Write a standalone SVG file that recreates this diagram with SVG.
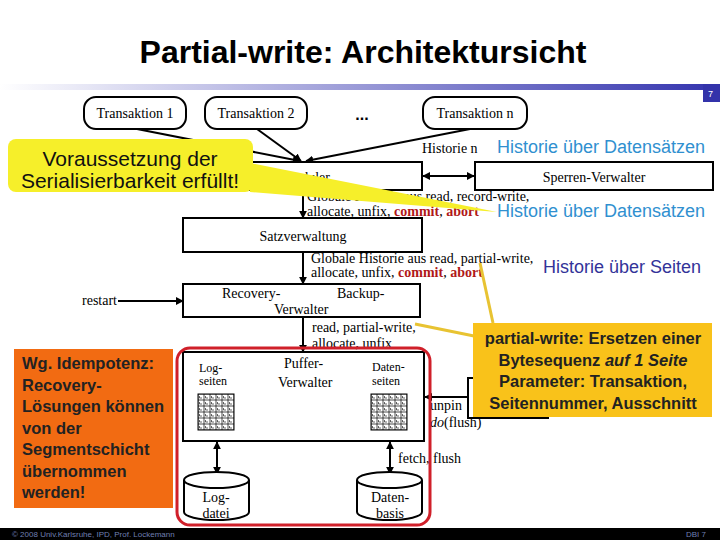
<svg xmlns="http://www.w3.org/2000/svg" width="720" height="540" viewBox="0 0 720 540">
<style>
.t{font-family:"Liberation Serif","Times New Roman",serif;font-size:14px;fill:#000}
.t14{font-family:"Liberation Serif","Times New Roman",serif;font-size:14px;fill:#000}
.s{font-family:"Liberation Serif","Times New Roman",serif;font-size:12px;fill:#000}
.box{fill:#fff;stroke:#000;stroke-width:2}
.ln{stroke:#000;stroke-width:2;fill:none}
.red{fill:#b01818;font-weight:bold}
.hb{font-family:"Liberation Sans",Arial,sans-serif;font-size:18px;fill:#3090d0}
.hs{font-family:"Liberation Sans",Arial,sans-serif;font-size:18px;fill:#333399}
.cb{font-family:"Liberation Sans",Arial,sans-serif;font-size:16.5px;font-weight:bold;fill:#222}
.ptr{stroke:#e8c332;stroke-width:3;fill:none}
.ft{font-family:"Liberation Sans",Arial,sans-serif;font-size:8px;fill:#6f7fb0}
</style>
<defs>
<linearGradient id="bar" x1="0" x2="1" y1="0" y2="0">
<stop offset="0" stop-color="#ffffff"/>
<stop offset="1" stop-color="#3838b0"/>
</linearGradient>
<marker id="ah" viewBox="0 0 10 10" refX="9" refY="5" markerWidth="4" markerHeight="4" orient="auto-start-reverse">
<path d="M0,0 L10,5 L0,10 z" fill="#000"/>
</marker>
<pattern id="grid" width="6" height="6" patternUnits="userSpaceOnUse" x="198" y="394">
<rect width="6" height="6" fill="#fff" stroke="#000" stroke-width="0.7"/>
<path d="M1.5,2 v2 h2.5" stroke="#000" stroke-width="0.6" fill="none"/>
</pattern>
<pattern id="grid2" width="6" height="6" patternUnits="userSpaceOnUse" x="371" y="394">
<rect width="6" height="6" fill="#fff" stroke="#000" stroke-width="0.7"/>
<path d="M1.5,2 v2 h2.5" stroke="#000" stroke-width="0.6" fill="none"/>
</pattern>
</defs>

<rect width="720" height="540" fill="#fff"/>

<!-- header -->
<text x="363" y="63" text-anchor="middle" font-family="'Liberation Sans',Arial,sans-serif" font-size="32" font-weight="bold" fill="#000">Partial-write: Architektursicht</text>
<rect x="0" y="84" width="704" height="6" fill="url(#bar)"/>
<rect x="703" y="84" width="17" height="18" fill="#3333aa"/>
<text x="708" y="97" font-family="'Liberation Sans',Arial,sans-serif" font-size="9" fill="#fff">7</text>

<!-- connectors -->
<g id="connectors">
<line class="ln" x1="137" y1="129" x2="300" y2="161" marker-end="url(#ah)"/>
<line class="ln" x1="257" y1="129" x2="301" y2="161" marker-end="url(#ah)"/>
<line class="ln" x1="470" y1="129" x2="306" y2="161" marker-end="url(#ah)"/>
<line class="ln" x1="423" y1="176" x2="474" y2="176" marker-start="url(#ah)" marker-end="url(#ah)"/>
<line class="ln" x1="303" y1="190" x2="303" y2="218" marker-end="url(#ah)"/>
<line class="ln" x1="303" y1="252" x2="303" y2="284" marker-end="url(#ah)"/>
<line class="ln" x1="303" y1="284" x2="303" y2="303"/>
<line class="ln" x1="303" y1="317" x2="303" y2="352" marker-end="url(#ah)"/>
<line class="ln" x1="118" y1="301" x2="183" y2="301" marker-end="url(#ah)"/>
<line class="ln" x1="468" y1="397" x2="425" y2="397" marker-end="url(#ah)"/>
<line class="ln" x1="217" y1="442" x2="217" y2="474" marker-start="url(#ah)" marker-end="url(#ah)"/>
<line class="ln" x1="390" y1="442" x2="390" y2="474" marker-start="url(#ah)" marker-end="url(#ah)"/>
</g>

<!-- transactions -->
<g id="t1"><rect class="box" x="84" y="97" width="102" height="32" rx="12"/><text class="t14" x="135" y="118" text-anchor="middle">Transaktion 1</text></g>
<g id="t2"><rect class="box" x="205" y="97" width="102" height="32" rx="12"/><text class="t14" x="256" y="118" text-anchor="middle">Transaktion 2</text></g>
<g id="dots"><text x="362" y="120" text-anchor="middle" font-family="'Liberation Sans',Arial,sans-serif" font-size="16" font-weight="bold">...</text></g>
<g id="tn"><rect class="box" x="423" y="97" width="104" height="32" rx="12"/><text class="t14" x="475" y="118" text-anchor="middle">Transaktion n</text></g>

<g id="scheduler"><rect class="box" x="183" y="162" width="239" height="28"/><text class="t14" x="302" y="182" text-anchor="middle">Scheduler</text></g>
<g id="sperren"><rect class="box" x="475" y="162" width="238" height="28"/><text class="t14" x="594" y="182" text-anchor="middle">Sperren-Verwalter</text></g>
<text class="t14" x="422" y="153">Historie n</text>
<text class="hb" x="497" y="153">Historie über Datensätzen</text>

<text class="t" x="307" y="201">Globale Historie aus read, record-write,</text>
<text class="t" x="307" y="216">allocate, unfix, <tspan class="red">commit</tspan>, <tspan class="red">abort</tspan></text>
<text class="hb" x="497" y="217">Historie über Datensätzen</text>

<g id="satz"><rect class="box" x="183" y="218" width="239" height="34"/><text class="t14" x="303" y="241" text-anchor="middle">Satzverwaltung</text></g>

<text class="t" x="311" y="263">Globale Historie aus read, partial-write,</text>
<text class="t" x="311" y="277">allocate, unfix, <tspan class="red">commit</tspan>, <tspan class="red">abort</tspan></text>
<text class="hs" x="543" y="273">Historie über Seiten</text>

<g id="recovery"><rect class="box" x="183" y="284" width="237" height="33"/>
<text class="t14" x="222" y="298">Recovery-</text><text class="t14" x="337" y="298">Backup-</text><text class="t14" x="274" y="314">Verwalter</text></g>
<text class="t14" x="82" y="305">restart</text>

<text class="t14" x="312" y="332">read, partial-write,</text>
<text class="t14" x="312" y="348">allocate, unfix</text>

<g id="puffer"><rect class="box" x="183" y="352" width="241" height="89"/>
<text class="s" x="199" y="372">Log-</text><text class="s" x="199" y="385">seiten</text>
<text class="t14" x="284" y="368">Puffer-</text><text class="t14" x="278" y="387">Verwalter</text>
<text class="s" x="372" y="371">Daten-</text><text class="s" x="372" y="385">seiten</text>
<rect x="198" y="394" width="36" height="36" fill="url(#grid)" stroke="#000" stroke-width="1"/>
<rect x="371" y="394" width="36" height="36" fill="url(#grid2)" stroke="#000" stroke-width="1"/>
</g>

<g id="logdatei">
<path class="box" d="M184,480 v32 a32.5,8 0 0 0 65,0 v-32"/>
<ellipse class="box" cx="216.5" cy="480" rx="32.5" ry="8"/>
<text class="t14" x="216" y="502" text-anchor="middle">Log-</text><text class="t14" x="216" y="518" text-anchor="middle">datei</text>
</g>
<g id="datenbasis">
<path class="box" d="M357,480 v32 a32.5,8 0 0 0 65,0 v-32"/>
<ellipse class="box" cx="389.5" cy="480" rx="32.5" ry="8"/>
<text class="t14" x="390" y="502" text-anchor="middle">Daten-</text><text class="t14" x="390" y="518" text-anchor="middle">basis</text>
</g>
<text class="t14" x="398" y="463">fetch, flush</text>

<g id="unpinbox"><rect class="box" x="468" y="378" width="80" height="40"/></g>
<text class="t14" x="430" y="410">unpin</text>
<text class="t14" x="430" y="427"><tspan font-style="italic">do</tspan>(flush)</text>

<rect x="177" y="348" width="253" height="177" rx="13" fill="none" stroke="#d0202a" stroke-width="3"/>

<!-- callouts -->
<g id="callout-serial">
<polygon points="250,163 497,212 250,192" fill="#f6ef2a"/>
<rect x="8" y="139" width="245" height="53" rx="8" fill="#f6ef2a"/>
<text x="130" y="166" text-anchor="middle" font-family="'Liberation Sans',Arial,sans-serif" font-size="21" fill="#111">Voraussetzung der</text>
<text x="130" y="188" text-anchor="middle" font-family="'Liberation Sans',Arial,sans-serif" font-size="21" fill="#111">Serialisierbarkeit erfüllt!</text>
</g>

<g id="callout-idem">
<rect x="14" y="349" width="159" height="159" fill="#f26b12"/>
<text class="cb" x="22" y="369">Wg. Idempotenz:</text>
<text class="cb" x="22" y="390.5">Recovery-</text>
<text class="cb" x="22" y="412">Lösungen können</text>
<text class="cb" x="22" y="433.5">von der</text>
<text class="cb" x="22" y="455">Segmentschicht</text>
<text class="cb" x="22" y="476.5">übernommen</text>
<text class="cb" x="22" y="498">werden!</text>
</g>

<g id="callout-pw">
<line class="ptr" x1="480" y1="263" x2="493" y2="323"/>
<line class="ptr" x1="415" y1="324" x2="474" y2="336"/>
<rect x="473" y="323" width="239" height="94" fill="#f9c21a"/>
<text class="cb" x="593" y="344" text-anchor="middle">partial-write: Ersetzen einer</text>
<text class="cb" x="593" y="365.5" text-anchor="middle">Bytesequenz <tspan font-style="italic">auf 1 Seite</tspan></text>
<text class="cb" x="593" y="387" text-anchor="middle">Parameter: Transaktion,</text>
<text class="cb" x="593" y="408.5" text-anchor="middle">Seitennummer, Ausschnitt</text>
</g>

<!-- footer -->
<rect x="0" y="528" width="720" height="12" fill="#000"/>
<text class="ft" x="12" y="537">© 2008 Univ.Karlsruhe, IPD, Prof. Lockemann</text>
<text class="ft" x="706" y="537" text-anchor="end">DBI 7</text>
</svg>
